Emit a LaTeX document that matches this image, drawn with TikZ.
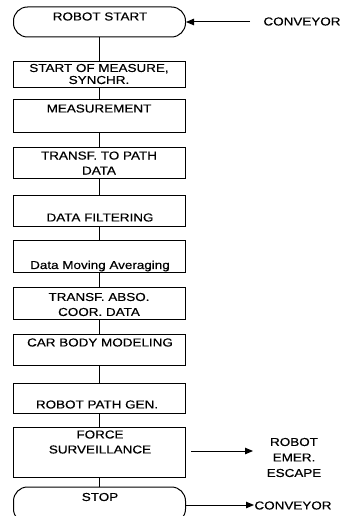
\documentclass[tikz,border=0pt]{standalone}
\usepackage{fontspec}
\setmainfont{Liberation Sans}[FakeStretch=1.17,FakeBold=0.5]
\usetikzlibrary{arrows.meta}
\begin{document}
\begin{tikzpicture}[x=1pt,y=-1pt, line width=1pt,
  box/.style={draw, minimum width=172pt, inner sep=0pt},
  term/.style={draw, rounded corners=14pt, minimum width=172pt, inner sep=0pt},
  txt/.style={font=\fontsize{11.5}{15}\selectfont, align=center, inner sep=0pt},
  arr/.style={-{Triangle[length=8pt,width=6.5pt]}}]
\useasboundingbox (0,0) rectangle (343,516);
\clip (0,0) rectangle (343,516);
% boxes
\node[term, minimum height=30pt] (b1) at (99.5,22) {};
\node[box, minimum height=26pt] (b2) at (99.5,75) {};
\node[box, minimum height=32pt] (b3) at (99.5,116) {};
\node[box, minimum height=31pt] (b4) at (99.5,162.5) {};
\node[box, minimum height=31pt] (b5) at (99.5,210.5) {};
\node[box, minimum height=32pt] (b6) at (99.5,256) {};
\node[box, minimum height=32pt] (b7) at (99.5,303) {};
\node[box, minimum height=31pt] (b8) at (99.5,349.5) {};
\node[box, minimum height=30pt] (b9) at (99.5,398) {};
\node[box, minimum height=50pt] (b10) at (99.5,452) {};
\node[term, minimum height=36pt] (b11) at (99.5,505) {};
% texts
\node[txt] (t1) at (100,16.5) {ROBOT START};
\node[txt, font=\fontsize{11.5}{12}\selectfont] (t2) at (99,74) {START OF MEASURE,\\SYNCHR.};
\node[txt] (t3) at (99,108.5) {MEASUREMENT};
\node[txt] (t4) at (99,163) {TRANSF. TO PATH\\DATA};
\node[txt] (t5) at (100,217.5) {DATA FILTERING};
\node[txt] (t6) at (100,266) {Data Moving Averaging};
\node[txt] (t7) at (99,304.5) {TRANSF. ABSO.\\COOR. DATA};
\node[txt] (t8) at (100,342.5) {CAR BODY MODELING};
\node[txt] (t9) at (97,404.5) {ROBOT PATH GEN.};
\node[txt] (t10) at (100,442) {FORCE\\SURVEILLANCE};
\node[txt] (t11) at (100,497) {STOP};
% side texts
\node[txt, anchor=west] (c1) at (263,21.5) {CONVEYOR};
\node[txt, font=\fontsize{11.5}{15.5}\selectfont] (esc) at (294,457.5) {ROBOT\\EMER.\\ESCAPE};
\node[txt, anchor=west] (c2) at (254,505.5) {CONVEYOR};
\coordinate (c1s) at (250,22);
\coordinate (e1) at (253,451);
\coordinate (c2s) at (254,505);
% connectors
\draw (b1) -- (b2);
\draw (b2) -- (b3);
\draw (b3) -- (b4);
\draw (b4) -- (b5);
\draw (b5) -- (b6);
\draw (b6) -- (b7);
\draw (b7) -- (b8);
\draw (b8) -- (b9);
\draw (b9) -- (b10);
\draw (b10) -- (b11);
% arrows
\draw[arr] (c1s) -- (b1.east);
\draw[arr] ([xshift=5pt]b10.east |- e1) -- (e1);
\draw[arr] (b11.east) -- (c2s);
\end{tikzpicture}
\end{document}
